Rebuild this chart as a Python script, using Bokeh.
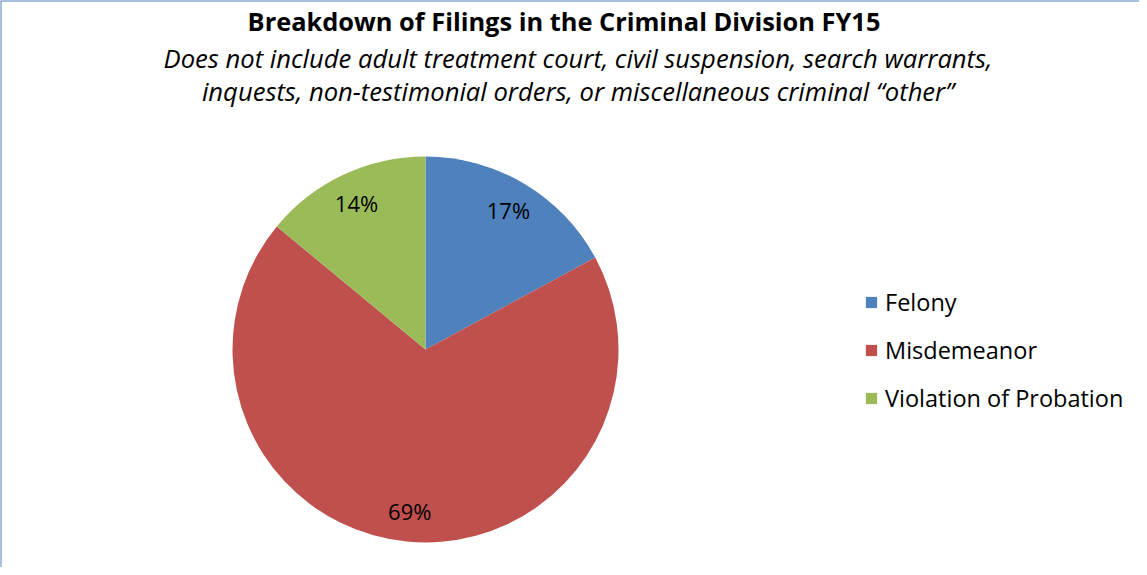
import math
from bokeh.plotting import figure
from bokeh.models import ColumnDataSource, Range1d, Label, Span, Legend, LegendItem
from bokeh.embed import file_html
from bokeh.resources import INLINE

categories = ["Felony", "Misdemeanor", "Violation of Probation"]
shares = [17.1, 68.9, 14.0]
colors = ["#4F81BD", "#C0504D", "#9BBB59"]
title_text = "Breakdown of Filings in the Criminal Division FY15"
subtitle_lines = [
    "Does not include adult treatment court, civil suspension, search warrants,",
    "inquests, non-testimonial orders, or miscellaneous criminal \u201cother\u201d",
]

W, H = 1139, 567
CX, CY, R = 425, 218, 193
FONT = "Open Sans"

total = sum(shares)
starts, ends, mids = [], [], []
a = math.pi / 2
for s in shares:
    span = 2 * math.pi * s / total
    starts.append(a)
    ends.append(a - span)
    mids.append(a - span / 2)
    a -= span

src = ColumnDataSource(dict(category=categories, start=starts, end=ends, color=colors))

p = figure(width=W, height=H, output_backend="svg", toolbar_location=None,
           x_range=Range1d(0, W), y_range=Range1d(0, H),
           x_axis_location=None, y_axis_location=None, min_border=0)
p.grid.visible = False
p.outline_line_color = None
p.background_fill_color = "white"

r = p.wedge(x=CX, y=CY, radius=R, start_angle="start", end_angle="end",
            direction="clock", fill_color="color", line_color=None, source=src)

for s, m in zip(shares, mids):
    lr = 0.84 * R
    p.add_layout(Label(x=CX + lr * math.cos(m), y=CY + lr * math.sin(m),
                       text=f"{round(s / total * 100)}%", text_font=FONT,
                       text_font_size="22px", text_align="center",
                       text_baseline="middle", text_color="#000000"))

p.add_layout(Label(x=563.5, y=547, x_units="screen", y_units="screen",
                   text=title_text, text_font=FONT, text_font_style="bold",
                   text_font_size="25.4px", text_align="center",
                   text_baseline="middle", text_color="#000000"))
for i, line in enumerate(subtitle_lines):
    p.add_layout(Label(x=577.5, y=509 - 33 * i, x_units="screen", y_units="screen",
                       text=line, text_font=FONT, text_font_style="italic",
                       text_font_size="25.6px", text_align="center",
                       text_baseline="middle", text_color="#000000"))

items = [LegendItem(label=c, renderers=[r], index=i) for i, c in enumerate(categories)]
legend = Legend(items=items, location=(864, 153), orientation="vertical",
                glyph_width=14, glyph_height=14, label_height=20, label_standoff=7,
                spacing=16, padding=0, margin=0, border_line_color=None,
                background_fill_alpha=0, label_text_font=FONT,
                label_text_font_size="23.5px", label_text_color="#000000")
p.add_layout(legend)

p.add_layout(Span(location=0, dimension="height", line_color="#4F81BD", line_width=2))
p.add_layout(Span(location=H, dimension="width", line_color="#4F81BD", line_width=2))

open("out.html", "w").write(file_html(p, INLINE))
